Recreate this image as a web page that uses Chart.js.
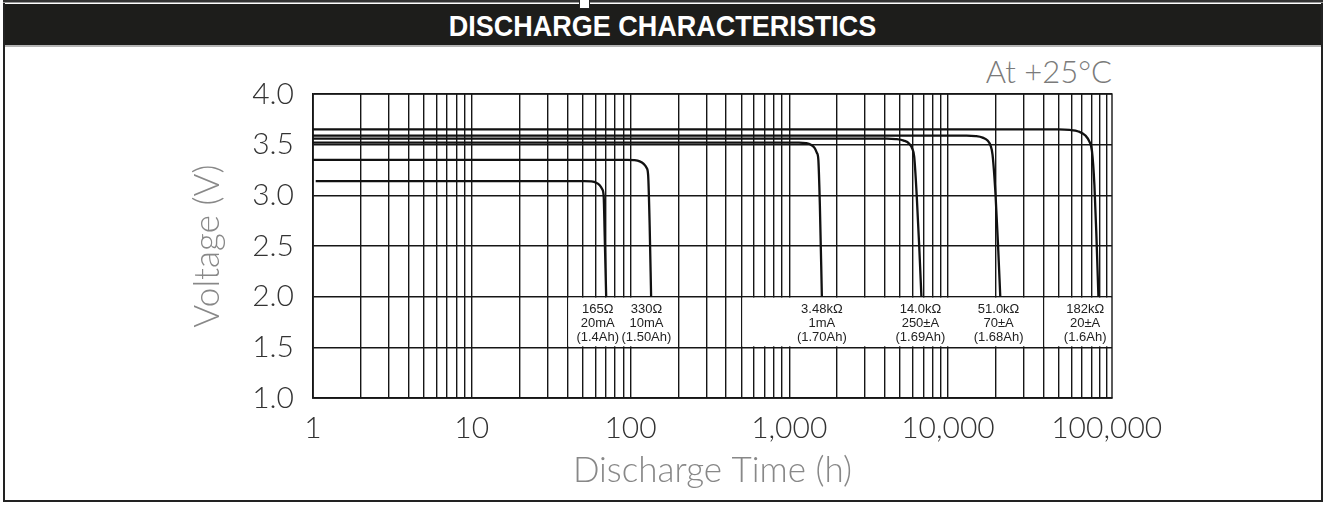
<!DOCTYPE html>
<html>
<head>
<meta charset="utf-8">
<script src="https://cdn.jsdelivr.net/npm/chart.js@4.4.1/dist/chart.umd.min.js"></script>
<style>
  html, body { margin: 0; padding: 0; background: #fff; }
  body { width: 1327px; height: 505px; position: relative; overflow: hidden; }
  #frame { position: absolute; left: 3px; top: 0; width: 1316px; height: 500px;
           border-left: 2px solid #222; border-right: 2px solid #222; border-bottom: 2px solid #222; }
  #topline { position: absolute; left: 3px; top: 0; width: 1320px; height: 2px; background: #333; }
  #topline2 { position: absolute; left: 3px; top: 2px; width: 1320px; height: 1px; background: #999; }
  #notch { position: absolute; left: 579px; top: 0; width: 9px; height: 8px; background: #fff; border: 1px solid #222; border-top: none; }
  #header { position: absolute; left: 5px; top: 4px; width: 1316px; height: 41px; background: #1d1d1b;
            border-bottom: 2px solid #b5b5b5; text-align: center; }
  #header span { display: inline-block; color: #fff; font: 900 30px "Liberation Sans Narrow", "Liberation Sans", sans-serif;
            line-height: 43px; transform: scaleX(0.9); transform-origin: center; white-space: nowrap; }
  #temp { position: absolute; right: 215px; top: 52px; font: 300 31px "Lato", "Open Sans", sans-serif; color: #7a7a7a; }
  canvas { position: absolute; left: 0; top: 0; }
</style>
</head>
<body>
<div id="frame"></div>
<div id="topline"></div>
<div id="topline2"></div>
<div id="header"><span>DISCHARGE CHARACTERISTICS</span></div>
<div id="notch"></div>
<div id="temp">At +25°C</div>
<canvas id="c" width="1327" height="505"></canvas>
<script>
// ---- data ----
const seriesNames = ['165Ω', '330Ω', '3.48kΩ', '14.0kΩ', '51.0kΩ', '182kΩ'];

const t165 = [1.04, 51.2, 56.6, 60.8, 64.0, 66.4, 67.8, 68.8, 69.8, 70.3];
const v165 = [3.14, 3.14, 3.137, 3.125, 3.10, 3.06, 2.99, 2.6, 2.2, 2.0];

const t330 = [1, 95.3, 105.5, 114.3, 121.1, 126.5, 129.2, 132.1, 134.9];
const v330 = [3.35, 3.35, 3.347, 3.335, 3.31, 3.27, 3.2, 2.7, 2.0];

const t3k48 = [1, 1151, 1274, 1369, 1440, 1494, 1526, 1560, 1606];
const v3k48 = [3.52, 3.52, 3.515, 3.50, 3.47, 3.42, 3.35, 2.9, 2.0];

const t14k = [1, 4117, 4690, 5265, 5702, 5956, 6131, 6356, 6590, 6803];
const v14k = [3.56, 3.56, 3.555, 3.54, 3.51, 3.46, 3.38, 3.0, 2.5, 2.0];

const t51k = [1, 13110, 14940, 16530, 17770, 18560, 19100, 19950, 20690, 21360];
const v51k = [3.59, 3.59, 3.585, 3.57, 3.54, 3.49, 3.40, 3.0, 2.5, 2.0];

const t182k = [1, 49680, 58270, 66370, 73450, 77850, 80720, 83690, 86150, 88690];
const v182k = [3.65, 3.65, 3.645, 3.63, 3.59, 3.53, 3.44, 3.1, 2.6, 2.0];

// annotation texts
const labelRes = ['165Ω', '330Ω', '3.48kΩ', '14.0kΩ', '51.0kΩ', '182kΩ'];
const labelCurrent = ['20mA', '10mA', '1mA', '250±A', '70±A', '20±A'];
const labelCap = ['(1.4Ah)', '(1.50Ah)', '(1.70Ah)', '(1.69Ah)', '(1.68Ah)', '(1.6Ah)'];
const labelAtHours = [62.2, 126, 1606, 6706, 20840, 73150];

// white label boxes (hours), voltage band
const boxFrom = [40, 500, 40000];
const boxTo = [200, 40000, 108000];
const boxVolts = [1.5, 2.0];

// axes
const xMin = 1, xMax = 108000;
const xGridValues = [];
[1, 10, 100, 1000, 10000].forEach(d => { for (let m = 1; m <= 9; m++) xGridValues.push(m * d); });
xGridValues.push(100000);
const xLabelValues = [1, 10, 100, 1000, 10000, 100000];
const xLabelTexts = ['1', '10', '100', '1,000', '10,000', '100,000'];
const yMin = 1.0, yMax = 4.0, yStep = 0.5;
const yLabelValues = [1.0, 1.5, 2.0, 2.5, 3.0, 3.5, 4.0];
const yLabelTexts = ['1.0', '1.5', '2.0', '2.5', '3.0', '3.5', '4.0'];

// ---- chart ----
const allT = [t165, t330, t3k48, t14k, t51k, t182k];
const allV = [v165, v330, v3k48, v14k, v51k, v182k];

const gridColor = '#161616';
const gridWidth = 1.4;

const datasets = seriesNames.map((name, i) => ({
  label: name,
  data: allT[i].map((t, k) => ({ x: t, y: allV[i][k] })),
  borderColor: '#111',
  borderWidth: 2.3,
  pointRadius: 0,
  fill: false,
  cubicInterpolationMode: 'monotone'
}));

const boxPlugin = {
  id: 'boxes',
  beforeDatasetsDraw(chart) {
    const { ctx, chartArea, scales: { x, y } } = chart;
    const yTop = y.getPixelForValue(boxVolts[1]);
    const yBot = y.getPixelForValue(boxVolts[0]);
    ctx.save();
    ctx.fillStyle = '#fff';
    for (let i = 0; i < boxFrom.length; i++) {
      const x0 = x.getPixelForValue(boxFrom[i]);
      const x1 = Math.min(x.getPixelForValue(boxTo[i]), chartArea.right);
      ctx.fillRect(x0 + 1, yTop + 1, x1 - x0 - 2, yBot - yTop - 2);
    }
    ctx.strokeStyle = gridColor;
    ctx.lineWidth = gridWidth;
    ctx.strokeRect(chartArea.left, chartArea.top, chartArea.right - chartArea.left, chartArea.bottom - chartArea.top);
    ctx.fillStyle = '#222';
    ctx.font = '13px "Liberation Sans", Arial, sans-serif';
    ctx.textAlign = 'center';
    ctx.textBaseline = 'middle';
    for (let i = 0; i < labelRes.length; i++) {
      const cx = x.getPixelForValue(labelAtHours[i]);
      ctx.fillText(labelRes[i], cx, yTop + 13);
      ctx.fillText(labelCurrent[i], cx, yTop + 27);
      ctx.fillText(labelCap[i], cx, yTop + 41);
    }
    ctx.restore();
  }
};

new Chart(document.getElementById('c'), {
  type: 'line',
  data: { datasets },
  plugins: [boxPlugin],
  options: {
    responsive: false,
    animation: false,
    devicePixelRatio: 1,
    layout: { padding: { top: 94, right: 215, bottom: 0, left: 0 } },
    plugins: { legend: { display: false }, tooltip: { enabled: false } },
    scales: {
      x: {
        type: 'logarithmic',
        min: xMin, max: xMax,
        afterBuildTicks: (s) => { s.ticks = xGridValues.map(v => ({ value: v })); },
        afterFit: (s) => { s.height = 107; },
        grid: { color: gridColor, lineWidth: gridWidth, drawTicks: false },
        border: { color: gridColor, width: gridWidth },
        ticks: {
          autoSkip: false, maxRotation: 0, padding: 12,
          color: '#333',
          font: { family: 'Lato', size: 30, weight: 300 },
          callback: (v) => { const i = xLabelValues.indexOf(v); return i >= 0 ? xLabelTexts[i] : ''; }
        },
        title: {
          display: true, text: 'Discharge Time (h)', color: '#888',
          font: { family: 'Lato', size: 35, weight: 300 },
          padding: { top: 0, bottom: 13 }
        }
      },
      y: {
        type: 'linear',
        min: yMin, max: yMax,
        afterFit: (s) => { s.width = 313; },
        grid: { color: gridColor, lineWidth: gridWidth, drawTicks: false },
        border: { color: gridColor, width: gridWidth },
        ticks: {
          stepSize: yStep, padding: 19, color: '#333',
          font: { family: 'Lato', size: 30, weight: 300 },
          callback: (v) => { const i = yLabelValues.findIndex(a => Math.abs(a - v) < 1e-6); return i >= 0 ? yLabelTexts[i] : ''; }
        },
        title: {
          display: true, text: 'Voltage (V)', color: '#888',
          font: { family: 'Lato', size: 35, weight: 300 },
          padding: { top: 187, bottom: 0 }
        }
      }
    }
  }
});
</script>
</body>
</html>
